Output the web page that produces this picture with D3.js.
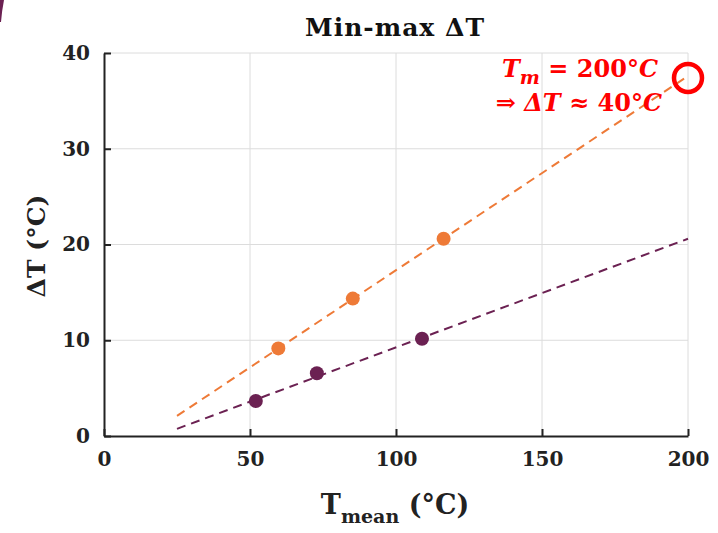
<!DOCTYPE html>
<html><head><meta charset="utf-8">
<script src="https://cdn.jsdelivr.net/npm/d3@7"></script>
<style>body{margin:0;background:#fff}svg{display:block}</style>
</head><body>
<script>
// Data
const orangeX = [59.7, 85.2, 116.3];
const orangeY = [9.15, 14.35, 20.6];
const purpleX = [52.0, 72.9, 108.9];
const purpleY = [3.65, 6.55, 10.15];
const fitX = [25, 200];
const orangeFit = [2.1, 37.6];
const purpleFit = [0.75, 20.6];
const xTicks = [0, 50, 100, 150, 200];
const yTicks = [0, 10, 20, 30, 40];
const highlight = [200, 37.4];

const W = 718, H = 533;
const m = {left: 104, right: 30, top: 53, bottom: 97};
const svg = d3.select("body").append("svg").attr("width", W).attr("height", H);
const x = d3.scaleLinear().domain([0, 200]).range([m.left, W - m.right]);
const y = d3.scaleLinear().domain([0, 40]).range([H - m.bottom, m.top]);
const serif = "'DejaVu Serif', serif";
const orange = "#ee7a37", purple = "#6b2152";

// corner artifact
svg.append("path").attr("d", "M0,0 L4,0 Q2,10 1,22 L0,22 Z").attr("fill", purple);

// grid
const g = svg.append("g");
g.selectAll(".gx").data(xTicks.slice(1)).join("line")
  .attr("x1", d => x(d)).attr("x2", d => x(d)).attr("y1", y(0)).attr("y2", y(40))
  .attr("stroke", "#dcdcdc").attr("stroke-width", 1);
g.selectAll(".gy").data(yTicks.slice(1)).join("line")
  .attr("y1", d => y(d)).attr("y2", d => y(d)).attr("x1", x(0)).attr("x2", x(200))
  .attr("stroke", "#dcdcdc").attr("stroke-width", 1);

// fit lines
const line = d3.line().x(d => x(d[0])).y(d => y(d[1]));
svg.append("path").attr("d", line(fitX.map((v, i) => [v, orangeFit[i]])))
  .attr("fill", "none").attr("stroke", orange).attr("stroke-width", 2).attr("stroke-dasharray", "9,6");
svg.append("path").attr("d", line(fitX.map((v, i) => [v, purpleFit[i]])))
  .attr("fill", "none").attr("stroke", purple).attr("stroke-width", 2).attr("stroke-dasharray", "9,6");

// points
svg.selectAll(".po").data(orangeX.map((v, i) => [v, orangeY[i]])).join("circle")
  .attr("cx", d => x(d[0])).attr("cy", d => y(d[1])).attr("r", 7).attr("fill", orange);
svg.selectAll(".pp").data(purpleX.map((v, i) => [v, purpleY[i]])).join("circle")
  .attr("cx", d => x(d[0])).attr("cy", d => y(d[1])).attr("r", 7).attr("fill", purple);

// axes
const xa = svg.append("g").attr("transform", `translate(0,${y(0)})`)
  .call(d3.axisBottom(x).tickValues(xTicks).tickSizeInner(-7).tickSizeOuter(0).tickPadding(16));
const ya = svg.append("g").attr("transform", `translate(${x(0)},0)`)
  .call(d3.axisLeft(y).tickValues(yTicks).tickSizeInner(-7).tickSizeOuter(0).tickPadding(14));
[xa, ya].forEach(a => {
  a.select(".domain").attr("stroke", "#222").attr("stroke-width", 2);
  a.selectAll(".tick line").attr("stroke", "#222").attr("stroke-width", 2);
  a.selectAll("text").attr("font-family", serif).attr("font-weight", "bold")
    .attr("font-size", 20).attr("fill", "#222");
});
xa.selectAll("text").attr("dy", "0.71em");

// title
svg.append("text").attr("x", 395).attr("y", 36).attr("text-anchor", "middle")
  .attr("font-family", serif).attr("font-weight", "bold").attr("font-size", 25)
  .attr("letter-spacing", 1).attr("fill", "#111")
  .text("Min-max ΔT");

// x label
const xl = svg.append("text").attr("x", 395).attr("y", 514).attr("text-anchor", "middle")
  .attr("font-family", serif).attr("font-weight", "bold").attr("font-size", 27).attr("fill", "#222");
xl.append("tspan").text("T");
xl.append("tspan").attr("font-size", 19).attr("dy", 9).text("mean");
xl.append("tspan").attr("dy", -9).text(" (°C)");

// y label
svg.append("text").attr("transform", "translate(45,246) rotate(-90)").attr("text-anchor", "middle")
  .attr("font-family", serif).attr("font-weight", "bold").attr("font-size", 25).attr("fill", "#222")
  .text("ΔT (°C)");

// highlight circle
svg.append("circle").attr("cx", x(highlight[0])).attr("cy", y(highlight[1])).attr("r", 14)
  .attr("fill", "none").attr("stroke", "#ff0000").attr("stroke-width", 4.5);

// annotation
const af = "'DejaVu Serif', serif";
const t1 = svg.append("text").attr("x", 658).attr("y", 77).attr("text-anchor", "end")
  .attr("font-family", af).attr("font-weight", "bold").attr("font-size", 24).attr("fill", "#ff0000");
t1.append("tspan").attr("font-style", "italic").text("T");
t1.append("tspan").attr("font-style", "italic").attr("font-size", 19).attr("dy", 7).text("m");
t1.append("tspan").attr("dy", -7).text(" = 200°");
t1.append("tspan").attr("font-style", "italic").text("C");
const t2 = svg.append("text").attr("x", 662).attr("y", 111).attr("text-anchor", "end")
  .attr("font-family", af).attr("font-weight", "bold").attr("font-size", 24).attr("fill", "#ff0000");
t2.append("tspan").text("⇒ ");
t2.append("tspan").attr("font-style", "italic").text("ΔT");
t2.append("tspan").text(" ≈ 40°");
t2.append("tspan").attr("font-style", "italic").text("C");
</script>
</body></html>
